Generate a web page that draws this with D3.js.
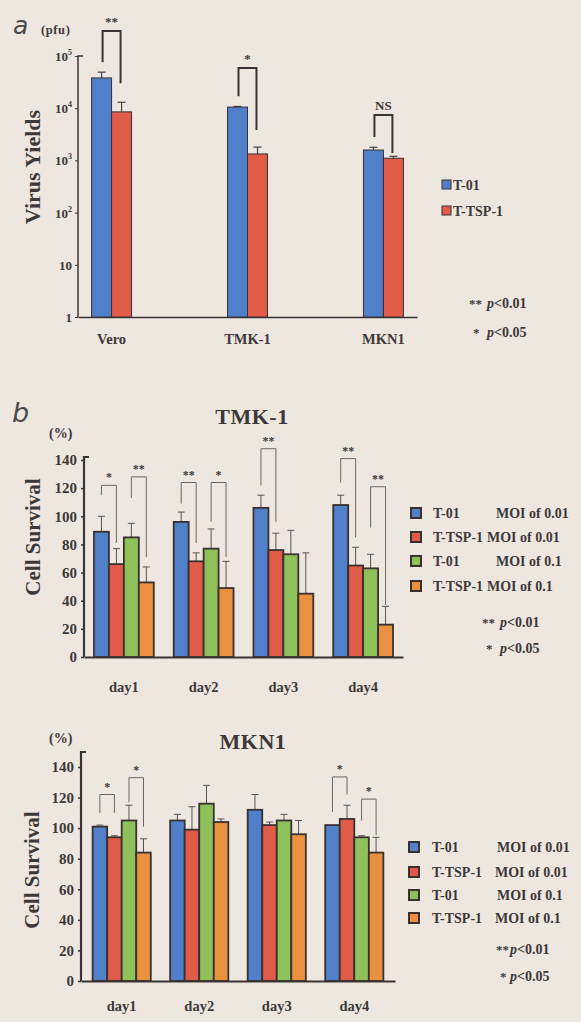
<!DOCTYPE html>
<html>
<head>
<meta charset="utf-8">
<script src="https://cdn.jsdelivr.net/npm/d3@7"></script>
<style>
  body { margin: 0; background: #ede7e0; }
  svg { display: block; }
  text { font-family: "Liberation Serif", "DejaVu Serif", serif; font-weight: bold; fill: #3d3838; }
  .panel-letter { font-family: "DejaVu Sans", "Liberation Sans", sans-serif; font-style: italic; font-weight: normal; fill: #4a4a4a; }
  .axis path, .axis line { stroke: #3a3434; }
</style>
</head>
<body>
<div id="chart"></div>
<script>
// ---- panel a: virus yields (log scale) ----
const yieldCells = ["Vero", "TMK-1", "MKN1"];
const yieldSeries = ["T-01", "T-TSP-1"];
const yieldT01 = [38000, 10500, 1580];
const yieldT01Sd = [11000, 300, 200];
const yieldTsp = [8500, 1330, 1100];
const yieldTspSd = [4500, 470, 100];
const yieldTicks = [1, 10, 100, 1000, 10000, 100000];
// brackets, given as log10 of bracket top and leg ends
const yieldSig = [
  { cell: "Vero", label: "**", top: 5.48, left: 4.88, right: 4.48 },
  { cell: "TMK-1", label: "*", top: 4.77, left: 4.23, right: 3.58 },
  { cell: "MKN1", label: "NS", top: 3.87, left: 3.45, right: 3.14 }
];

// ---- panel b: cell survival ----
const days = ["day1", "day2", "day3", "day4"];
const survivalSeries = ["T-01 MOI of 0.01", "T-TSP-1 MOI of 0.01", "T-01 MOI of 0.1", "T-TSP-1 MOI of 0.1"];
const survivalNames = ["T-01", "T-TSP-1", "T-01", "T-TSP-1"];
const survivalMoi = ["MOI of 0.01", "MOI of 0.01", "MOI of 0.1", "MOI of 0.1"];
const survivalTicks = [0, 20, 40, 60, 80, 100, 120, 140];

const tmkT01Low = [89, 96, 106, 108];
const tmkT01LowSd = [11, 7, 9, 7];
const tmkTspLow = [66, 68, 76, 65];
const tmkTspLowSd = [11, 6, 12, 13];
const tmkT01High = [85, 77, 73, 63];
const tmkT01HighSd = [10, 14, 17, 10];
const tmkTspHigh = [53, 49, 45, 23];
const tmkTspHighSd = [11, 19, 29, 13];
const tmkSig = [
  { day: "day1", a: 0, b: 1, label: "*", top: 122, left: 115, right: 81 },
  { day: "day1", a: 2, b: 3, label: "**", top: 128, left: 113, right: 71 },
  { day: "day2", a: 0, b: 1, label: "**", top: 124, left: 109, right: 81 },
  { day: "day2", a: 2, b: 3, label: "*", top: 124, left: 96, right: 71 },
  { day: "day3", a: 0, b: 1, label: "**", top: 148, left: 122, right: 96 },
  { day: "day4", a: 0, b: 1, label: "**", top: 141, left: 124, right: 85 },
  { day: "day4", a: 2, b: 3, label: "**", top: 121, left: 92, right: 37 }
];

const mknT01Low = [101, 105, 112, 102];
const mknT01LowSd = [1, 4, 10, 0];
const mknTspLow = [94, 99, 102, 106];
const mknTspLowSd = [1, 15, 2, 9];
const mknT01High = [105, 116, 105, 94];
const mknT01HighSd = [10, 12, 4, 1];
const mknTspHigh = [84, 104, 96, 84];
const mknTspHighSd = [9, 2, 9, 10];
const mknSig = [
  { day: "day1", a: 0, b: 1, label: "*", top: 122, left: 110, right: 110 },
  { day: "day1", a: 2, b: 3, label: "*", top: 133, left: 117, right: 101 },
  { day: "day4", a: 0, b: 1, label: "*", top: 133.5, left: 110.6, right: 122 },
  { day: "day4", a: 2, b: 3, label: "*", top: 119, left: 105, right: 95.5 }
];

const colors = ["#4f80c9", "#e05c48", "#8fc15a", "#e9913f"];
const outline = "#3a3030";

const svg = d3.select("#chart").append("svg")
  .attr("width", 581)
  .attr("height", 1022);

svg.append("rect").attr("width", 581).attr("height", 1022).attr("fill", "#ede7e0");

// ================= panel a =================
const a = svg.append("g");

const ya = d3.scaleLog().domain([1, 1e5]).range([317, 56]);
const xa = d3.scaleBand().domain(yieldCells).range([78, 417]).paddingInner(0.706).paddingOuter(0.1);
const xaInner = d3.scaleBand().domain(yieldSeries).range([0, xa.bandwidth()]);

const yaAxis = a.append("g")
  .attr("class", "axis")
  .attr("transform", "translate(78,0)")
  .call(d3.axisLeft(ya).tickValues(yieldTicks).tickSize(3).tickSizeOuter(0).tickFormat(""));
yaAxis.select(".domain").attr("stroke-width", 1.5).attr("d", `M5,${ya(1e5)}H0V${ya(1)}`);
yaAxis.selectAll(".tick").append("text")
  .attr("x", -6)
  .attr("dy", "0.35em")
  .attr("text-anchor", "end")
  .attr("font-size", 13)
  .attr("fill", "#3d3838")
  .each(function(d) {
    const t = d3.select(this);
    if (d < 100) {
      t.text(d);
    } else {
      t.append("tspan").text("10");
      t.append("tspan").attr("dy", -6).attr("font-size", 8).text(Math.round(Math.log10(d)));
    }
  });

// x axis line
a.append("g")
  .attr("class", "axis")
  .attr("transform", "translate(0,317)")
  .call(d3.axisBottom(xa).tickSize(0).tickSizeOuter(0).tickFormat(""))
  .select(".domain").attr("stroke-width", 1.5);

a.selectAll(".cell-label")
  .data(yieldCells)
  .join("text")
  .attr("class", "cell-label")
  .attr("x", d => xa(d) + xa.bandwidth() / 2)
  .attr("y", 344)
  .attr("text-anchor", "middle")
  .attr("font-size", 14.5)
  .text(d => d);

const yieldRows = [];
yieldCells.forEach((c, i) => {
  yieldRows.push({ cell: c, series: "T-01", value: yieldT01[i], sd: yieldT01Sd[i], color: colors[0] });
  yieldRows.push({ cell: c, series: "T-TSP-1", value: yieldTsp[i], sd: yieldTspSd[i], color: colors[1] });
});

// error bars
const yaErr = a.selectAll(".err").data(yieldRows).join("g").attr("class", "err");
yaErr.append("line")
  .attr("x1", d => xa(d.cell) + xaInner(d.series) + xaInner.bandwidth() / 2)
  .attr("x2", d => xa(d.cell) + xaInner(d.series) + xaInner.bandwidth() / 2)
  .attr("y1", d => ya(d.value))
  .attr("y2", d => ya(d.value + d.sd))
  .attr("stroke", "#444").attr("stroke-width", 1.2);
yaErr.append("line")
  .attr("x1", d => xa(d.cell) + xaInner(d.series) + xaInner.bandwidth() / 2 - 4)
  .attr("x2", d => xa(d.cell) + xaInner(d.series) + xaInner.bandwidth() / 2 + 4)
  .attr("y1", d => ya(d.value + d.sd))
  .attr("y2", d => ya(d.value + d.sd))
  .attr("stroke", "#444").attr("stroke-width", 1.2);

a.selectAll(".bar")
  .data(yieldRows)
  .join("rect")
  .attr("class", "bar")
  .attr("x", d => xa(d.cell) + xaInner(d.series))
  .attr("y", d => ya(d.value))
  .attr("width", xaInner.bandwidth())
  .attr("height", d => ya(1) - ya(d.value))
  .attr("fill", d => d.color)
  .attr("stroke", outline)
  .attr("stroke-width", 1);

// brackets
const yaSig = a.selectAll(".sig").data(yieldSig).join("g").attr("class", "sig");
yaSig.append("path")
  .attr("d", d => {
    const x1 = xa(d.cell) + xaInner("T-01") + xaInner.bandwidth() / 2 + 1;
    const x2 = xa(d.cell) + xaInner("T-TSP-1") + xaInner.bandwidth() / 2 - 1;
    return `M${x1},${ya(10 ** d.left)}V${ya(10 ** d.top)}H${x2}V${ya(10 ** d.right)}`;
  })
  .attr("fill", "none")
  .attr("stroke", "#3a3434")
  .attr("stroke-width", 2);
yaSig.append("text")
  .attr("x", d => xa(d.cell) + xa.bandwidth() / 2)
  .attr("y", d => ya(10 ** d.top) - 5)
  .attr("text-anchor", "middle")
  .attr("font-size", 13)
  .attr("fill", d => d.label === "NS" ? "#444" : "#9a8e8e")
  .text(d => d.label);

a.append("text").attr("class", "panel-letter").attr("x", 13).attr("y", 34).attr("font-size", 25).text("a");
a.append("text").attr("x", 41).attr("y", 34).attr("font-size", 12.5).attr("letter-spacing", 0.6).text("(pfu)");
a.append("text")
  .attr("transform", "translate(40,167) rotate(-90)")
  .attr("text-anchor", "middle")
  .attr("font-size", 22)
  .text("Virus Yields");

// legend a
const legA = a.selectAll(".leg").data(yieldSeries).join("g").attr("class", "leg")
  .attr("transform", (d, i) => `translate(442,${180 + i * 26})`);
legA.append("rect").attr("width", 9).attr("height", 9)
  .attr("fill", (d, i) => colors[i]).attr("stroke", outline).attr("stroke-width", 1);
legA.append("text").attr("x", 11).attr("y", 9.5).attr("font-size", 14).text(d => d);

function pNotes(g, xStar, xP, y1, y2) {
  g.append("text").attr("x", xStar).attr("y", y1).attr("font-size", 13).attr("fill", "#a09595").text("**");
  g.append("text").attr("x", xStar + 4).attr("y", y2).attr("font-size", 13).attr("fill", "#a09595").text("*");
  [["p<0.01", y1], ["p<0.05", y2]].forEach(([s, y]) => {
    const t = g.append("text").attr("x", xP).attr("y", y).attr("font-size", 14);
    t.append("tspan").attr("font-style", "italic").text("p");
    t.append("tspan").text(s.slice(1));
  });
}
pNotes(a, 469, 487, 308, 337);

// ================= panel b =================
function survivalPanel(cfg) {
  const g = svg.append("g");
  const y = d3.scaleLinear().domain([0, 140]).range(cfg.yRange);
  const x = d3.scaleBand().domain(days).range(cfg.xRange).paddingInner(0.25).paddingOuter(cfg.outer);
  const xi = d3.scaleBand().domain(d3.range(4)).range([0, x.bandwidth()]);

  const yAxis = g.append("g")
    .attr("class", "axis")
    .attr("transform", `translate(${cfg.xRange[0]},0)`)
    .call(d3.axisLeft(y).tickValues(survivalTicks).tickSize(3).tickSizeOuter(0));
  yAxis.select(".domain").attr("stroke-width", 2.2)
    .attr("d", `M5,${cfg.axisTop}H0V${cfg.yRange[0]}`);
  yAxis.selectAll(".tick line").attr("stroke-width", 1.5);
  yAxis.selectAll(".tick text").attr("font-size", 15).attr("fill", "#3d3838").attr("x", -7)
    .attr("font-family", "Liberation Serif, DejaVu Serif, serif");

  g.append("g")
    .attr("class", "axis")
    .attr("transform", `translate(0,${cfg.yRange[0]})`)
    .call(d3.axisBottom(x).tickSize(0).tickSizeOuter(0).tickFormat(""))
    .select(".domain").attr("stroke-width", 2.2);

  g.selectAll(".day-label").data(days).join("text")
    .attr("class", "day-label")
    .attr("x", d => x(d) + x.bandwidth() / 2)
    .attr("y", cfg.dayY)
    .attr("text-anchor", "middle")
    .attr("font-size", 14.5)
    .text(d => d);

  const rows = [];
  days.forEach((d, di) => {
    cfg.values.forEach((vals, si) => {
      rows.push({ day: d, s: si, value: vals[di], sd: cfg.sds[si][di] });
    });
  });
  const cx = d => x(d.day) + xi(d.s) + xi.bandwidth() / 2;

  const err = g.selectAll(".err").data(rows.filter(r => r.sd > 0)).join("g").attr("class", "err");
  err.append("line")
    .attr("x1", cx).attr("x2", cx)
    .attr("y1", d => y(d.value)).attr("y2", d => y(d.value + d.sd))
    .attr("stroke", "#5a5252").attr("stroke-width", 1);
  err.append("line")
    .attr("x1", d => cx(d) - 3.5).attr("x2", d => cx(d) + 3.5)
    .attr("y1", d => y(d.value + d.sd)).attr("y2", d => y(d.value + d.sd))
    .attr("stroke", "#5a5252").attr("stroke-width", 1);

  g.selectAll(".bar").data(rows).join("rect")
    .attr("class", "bar")
    .attr("x", d => x(d.day) + xi(d.s))
    .attr("y", d => y(d.value))
    .attr("width", xi.bandwidth())
    .attr("height", d => y(0) - y(d.value))
    .attr("fill", d => colors[d.s])
    .attr("stroke", outline)
    .attr("stroke-width", 1.8);

  const sig = g.selectAll(".sig").data(cfg.sig).join("g").attr("class", "sig");
  sig.append("path")
    .attr("d", d => {
      const x1 = x(d.day) + xi(d.a) + xi.bandwidth() / 2;
      const x2 = x(d.day) + xi(d.b) + xi.bandwidth() / 2;
      return `M${x1},${y(d.left)}V${y(d.top)}H${x2}V${y(d.right)}`;
    })
    .attr("fill", "none")
    .attr("stroke", "#6e6464")
    .attr("stroke-width", 1);
  sig.append("text")
    .attr("x", d => x(d.day) + xi(d.a) + xi.bandwidth())
    .attr("y", d => y(d.top) - 4)
    .attr("text-anchor", "middle")
    .attr("font-size", 12)
    .attr("fill", "#b39494")
    .text(d => d.label);

  g.append("text").attr("x", cfg.titleX).attr("y", cfg.titleY)
    .attr("text-anchor", "middle").attr("font-size", 22).attr("letter-spacing", 0.5).text(cfg.title);
  g.append("text").attr("x", 49).attr("y", cfg.pctY).attr("font-size", 14).text("(%)");
  g.append("text")
    .attr("transform", `translate(${cfg.labelX},${cfg.labelY}) rotate(-90)`)
    .attr("text-anchor", "middle")
    .attr("font-size", 21)
    .text("Cell Survival");

  const leg = g.selectAll(".leg").data(survivalSeries).join("g").attr("class", "leg")
    .attr("transform", (d, i) => `translate(${cfg.legX},${cfg.legY[i]})`);
  leg.append("rect").attr("x", 0).attr("y", -5).attr("width", 10).attr("height", 10)
    .attr("fill", (d, i) => colors[i]).attr("stroke", outline).attr("stroke-width", 2);
  leg.append("text").attr("x", cfg.nameX - cfg.legX).attr("y", 5).attr("font-size", 14)
    .text((d, i) => survivalNames[i]);
  leg.append("text")
    .attr("x", (d, i) => (survivalNames[i] === "T-01" ? cfg.moiX[0] : cfg.moiX[1]) - cfg.legX)
    .attr("y", 5).attr("font-size", 14)
    .text((d, i) => survivalMoi[i]);

  pNotes(g, cfg.pStarX, cfg.pX, cfg.pY[0], cfg.pY[1]);
  return g;
}

survivalPanel({
  title: "TMK-1", titleX: 252, titleY: 424, pctY: 438,
  yRange: [657, 460], axisTop: 457, xRange: [84, 403], outer: 0.125,
  dayY: 692, labelX: 40, labelY: 537,
  values: [tmkT01Low, tmkTspLow, tmkT01High, tmkTspHigh],
  sds: [tmkT01LowSd, tmkTspLowSd, tmkT01HighSd, tmkTspHighSd],
  sig: tmkSig,
  legX: 411, legY: [513, 537, 561, 586], nameX: 433, moiX: [496, 487],
  pStarX: 482, pX: 500, pY: [627, 653]
});

survivalPanel({
  title: "MKN1", titleX: 253, titleY: 749, pctY: 743,
  yRange: [981, 767], axisTop: 752, xRange: [81, 395], outer: 0.15,
  dayY: 1011, labelX: 39, labelY: 870,
  values: [mknT01Low, mknTspLow, mknT01High, mknTspHigh],
  sds: [mknT01LowSd, mknTspLowSd, mknT01HighSd, mknTspHighSd],
  sig: mknSig,
  legX: 409, legY: [847, 872, 895, 918], nameX: 432, moiX: [497, 495],
  pStarX: 496, pX: 510, pY: [954, 981]
});

svg.append("text").attr("class", "panel-letter").attr("x", 12).attr("y", 422).attr("font-size", 27).text("b");
</script>
</body>
</html>
